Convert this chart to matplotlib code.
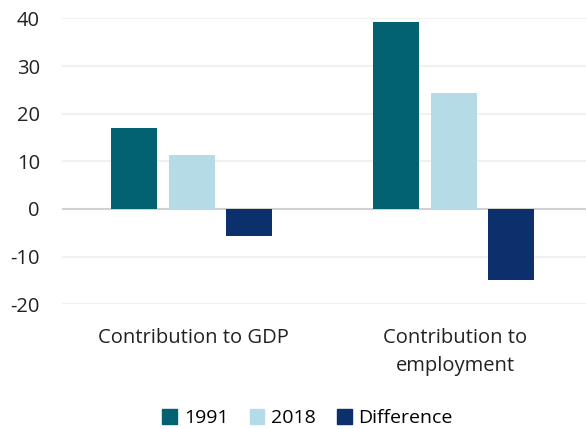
import numpy as np
import matplotlib.pyplot as plt
from matplotlib.patches import Patch

plt.rcParams['font.family'] = ['Open Sans', 'DejaVu Sans']
plt.rcParams['axes.unicode_minus'] = False

categories = ["Contribution to GDP", "Contribution to\nemployment"]
series = ["1991", "2018", "Difference"]
v1991 = [17.0, 39.3]
v2018 = [11.3, 24.4]
vdiff = [-5.7, -14.9]
colors = ["#036272", "#b5dce6", "#0b306b"]

fig = plt.figure(figsize=(5.86, 4.29), dpi=100)
ax = fig.add_axes([0.106, 0.291, 0.894, 0.666])

x = np.arange(len(categories))
width = 0.175
step = 0.22
for i, (vals, c) in enumerate(zip([v1991, v2018, vdiff], colors)):
    ax.bar(x - 0.005 + (i - 1) * step, vals, width, color=c, zorder=3)

ax.set_xlim(-0.5, 1.5)
ax.set_ylim(-20, 40)
ax.set_yticks(range(-20, 41, 10))
ax.yaxis.grid(True, color="#eeeeee", linewidth=1.2, zorder=0)
ax.axhline(0, color="#d0d0d0", linewidth=1.5, zorder=2)
for s in ax.spines.values():
    s.set_visible(False)
ax.set_xticks(x)
ax.set_xticklabels(categories, fontsize=14.5, color="#222222", linespacing=1.55)
ax.tick_params(axis="x", length=0, pad=17)
ax.tick_params(axis="y", length=0, pad=16, labelsize=14.5, labelcolor="#222222")

handles = [Patch(color=c, label=s) for s, c in zip(series, colors)]
fig.legend(handles=handles, loc="center", bbox_to_anchor=(0.525, 0.025), ncol=3,
           frameon=False, fontsize=14, handlelength=0.75, handleheight=0.75,
           handletextpad=0.35, columnspacing=1.1)

fig.savefig("out.png", dpi=100)
